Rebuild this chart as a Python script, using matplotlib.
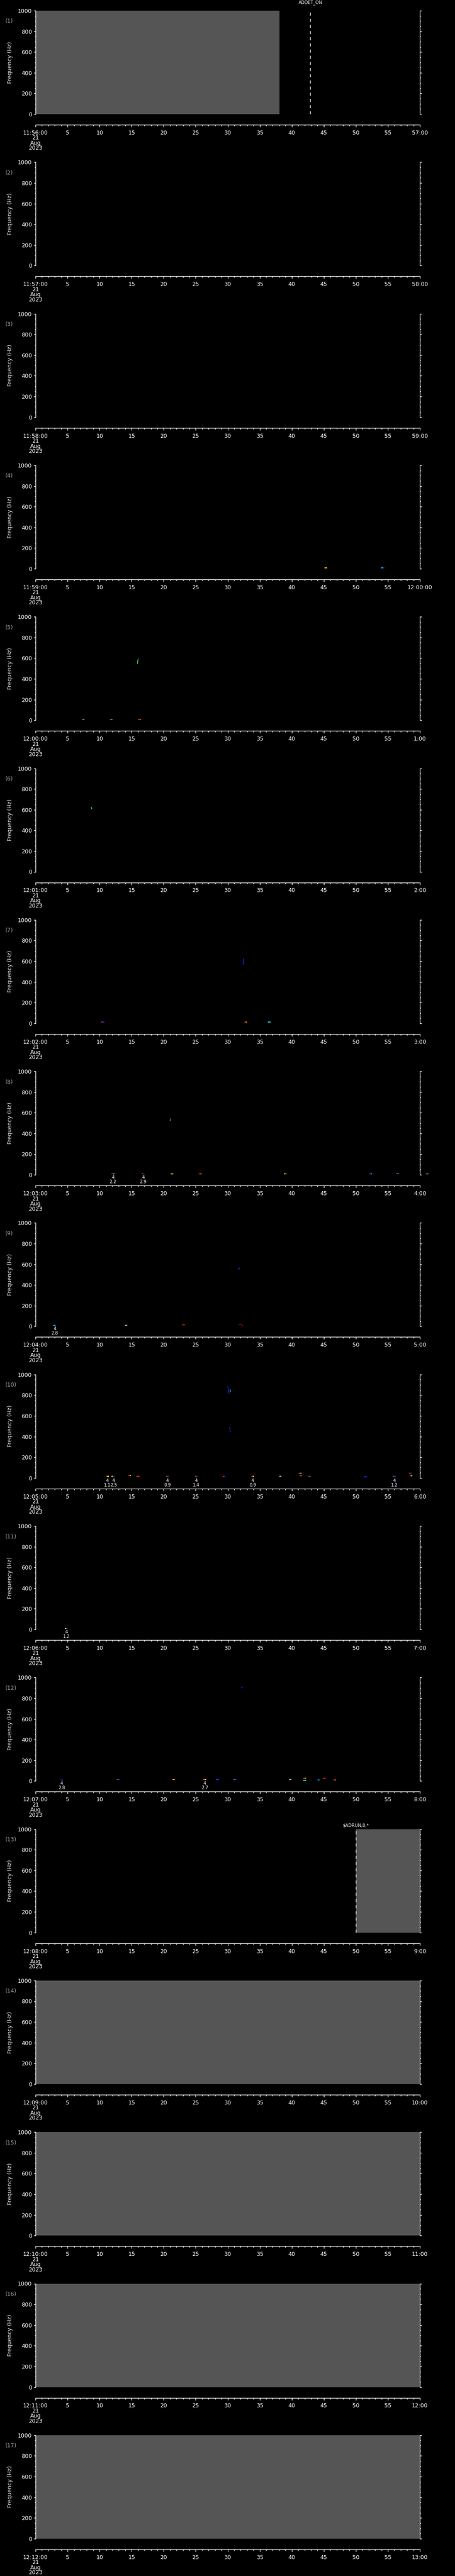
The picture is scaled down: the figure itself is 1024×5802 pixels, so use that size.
import matplotlib
matplotlib.use("Agg")
import matplotlib.pyplot as plt
from matplotlib.ticker import MultipleLocator

# =============================================================================
# DATA
# =============================================================================

start_labels = ["11:56:00", "11:57:00", "11:58:00", "11:59:00", "12:00:00",
                "12:01:00", "12:02:00", "12:03:00", "12:04:00", "12:05:00",
                "12:06:00", "12:07:00", "12:08:00", "12:09:00", "12:10:00",
                "12:11:00", "12:12:00"]
end_labels = ["57:00", "58:00", "59:00", "12:00:00", "1:00", "2:00", "3:00",
              "4:00", "5:00", "6:00", "7:00", "8:00", "9:00", "10:00",
              "11:00", "12:00", "13:00"]
mid_labels = ["5", "10", "15", "20", "25", "30", "35", "40", "45", "50", "55"]
date_lines = ["21", "Aug", "2023"]

# grey (no data) spans, seconds inside the minute
gray_panel = [0, 12, 13, 14, 15, 16]
gray_t0 = [0.0, 50.0, 0.0, 0.0, 0.0, 0.0]
gray_t1 = [38.1, 60.0, 60.0, 60.0, 60.0, 60.0]

# event markers
evt_panel = [0, 12]
evt_time = [42.9, 50.0]
evt_label = ["ADDET_ON", "$ADRUN,0,*"]

# small spectral blobs: panel, time (s), freq (Hz), left colour, right colour
dot_panel = [3, 3,
             4, 4, 4,
             6, 6, 6,
             7, 7, 7, 7, 7, 7, 7, 7,
             8, 8, 8,
             9, 9, 9, 9, 9, 9, 9, 9, 9, 9, 9, 9, 9, 9, 9, 9,
             10,
             11, 11, 11, 11, 11, 11, 11, 11, 11, 11, 11, 11]
dot_t = [45.3, 54.2,
         7.4, 11.8, 16.2,
         10.5, 32.8, 36.5,
         12.1, 16.8, 21.3, 25.7, 39.0, 52.3, 56.5, 61.1,
         3.0, 14.2, 23.1,
         11.2, 12.1, 14.7, 16.0, 20.6, 25.1, 29.4, 33.9, 38.3, 41.3, 41.4,
         42.8, 51.5, 56.0, 58.5, 58.6,
         4.8,
         4.1, 12.9, 21.5, 26.4, 28.4, 31.1, 39.8, 42.0, 42.0, 44.1, 45.1, 46.7]
dot_f = [10, 10,
         10, 10, 10,
         10, 10, 10,
         10, 10, 10, 10, 10, 10, 15, 10,
         10, 12, 15,
         15, 15, 24, 15, 15, 15, 15, 15, 15, 48, 20,
         15, 10, 15, 48, 20,
         10,
         10, 15, 15, 15, 15, 15, 15, 25, 5, 10, 25, 10]
dot_c1 = ["o", "c",
          "r", "r", "r",
          "r", "r", "c",
          "r", "r", "y", "r", "y", "b", "b", "r",
          "c", "y", "r",
          "r", "y", "r", "r", "r", "r", "r", "r", "y", "r", "r",
          "r", "b", "r", "r", "r",
          "y",
          "b", "r", "r", "r", "b", "r", "y", "r", "c", "b", "r", "r"]
dot_c2 = ["y", "b",
          "c", "c", "o",
          "b", "o", "c",
          "c", "b", "y", "o", "o", "c", "r", "c",
          "b", "b", "r",
          "y", "b", "y", "r", "b", "b", "b", "y", "b", "c", "r",
          "b", "b", "b", "b", "y",
          "b",
          "b", "b", "y", "y", "b", "b", "b", "y", "c", "c", "r", "o"]

# short tracks: panel, t0, f0, t1, f1, colour
trk_panel = [4, 4, 5, 6, 7, 7, 8, 8, 8, 9, 9, 9, 11]
trk_t0 = [15.9, 16.0, 8.7, 32.4, 21.0, 21.05, 31.7, 31.7, 32.1, 30.0, 30.35, 30.3, 32.1]
trk_f0 = [545, 590, 625, 568, 523, 535, 546, 20, 20, 886, 857, 490, 897]
trk_t1 = [16.0, 16.1, 8.8, 32.5, 21.05, 21.1, 31.85, 32.1, 32.4, 30.2, 30.4, 30.4, 32.3]
trk_f1 = [590, 604, 604, 627, 535, 546, 568, 20, 0, 814, 830, 443, 913]
trk_c = ["g", "b", "c", "b", "g", "r", "b", "dr", "dr", "b", "c", "b", "b"]

# detection annotations under the blobs
det_panel = [7, 7, 8, 9, 9, 9, 9, 9, 9, 10, 11, 11]
det_t = [12.1, 16.8, 3.0, 11.2, 12.2, 20.6, 25.1, 33.9, 56.0, 4.8, 4.1, 26.4]
det_top = ["4"] * 12
det_bot = ["2.2", "2.9", "2.8", "1.1", "2.5", "0.9", "1.4", "0.9", "1.2",
           "1.2", "2.8", "2.7"]

# =============================================================================
# STYLE / LAYOUT
# =============================================================================

W, H, DPI = 1024, 5802, 100
PX = 72.0 / DPI                 # points per pixel
X0, X1 = 80, 945                # plot area, pixels
TOP0, PITCH, AX_H = 24, 341.3, 233
GRAY = "#555555"
COLORS = {"r": "#ff2a00", "y": "#ffff00", "c": "#00ffff", "b": "#1030ff",
          "o": "#ff9000", "g": "#40ff40", "dr": "#b00000"}
evt_pad_px = [18, 8]
BLOB_HALF = 0.22                # s

fig = plt.figure(figsize=(W / DPI, H / DPI), dpi=DPI, facecolor="black")

axes = []
for i in range(len(start_labels)):
    top = TOP0 + i * PITCH
    ax = fig.add_axes([X0 / W, 1 - (top + AX_H) / H, (X1 - X0) / W, AX_H / H])
    ax.set_facecolor("black")
    ax.set_xlim(0, 60)
    ax.set_ylim(0, 1000)
    ax.spines["top"].set_visible(False)
    for s in ["left", "right", "bottom"]:
        ax.spines[s].set_color("white")
        ax.spines[s].set_linewidth(1.0)
    ax.spines["bottom"].set_position(("outward", 24 * PX))

    ax.xaxis.set_major_locator(MultipleLocator(5))
    ax.xaxis.set_minor_locator(MultipleLocator(1))
    ax.yaxis.set_major_locator(MultipleLocator(200))
    ax.yaxis.set_minor_locator(MultipleLocator(50))
    ax.tick_params(which="both", direction="out", colors="white",
                   right=True, labelright=False, width=1.0)
    ax.tick_params(which="major", length=4 * PX * 1.0, labelsize=9)
    ax.tick_params(which="minor", length=2.2 * PX)
    ax.tick_params(axis="x", which="major", length=5 * PX, pad=5)
    ax.tick_params(axis="x", which="minor", length=3 * PX)
    ax.tick_params(axis="y", pad=3)

    ax.set_yticks([0, 200, 400, 600, 800, 1000])
    ax.set_yticklabels(["0", "200", "400", "600", "800", "1000"])
    ax.set_xticks(range(0, 61, 5))
    ax.set_xticklabels(["\n".join([start_labels[i]] + date_lines)]
                       + mid_labels + [end_labels[i]])
    for lab in ax.get_xticklabels():
        lab.set_linespacing(0.85)

    fig.text(11.5 / W, 1 - (top + 24) / H, f"({i + 1})", color="#a0a0a0",
             fontsize=9, ha="left", va="center")
    fig.text(23 / W, 1 - (top + AX_H / 2) / H, "Frequency (Hz)",
             color="#e6e6e6", fontsize=9, rotation=90, ha="center",
             va="center")
    axes.append(ax)

# grey no-data blocks
for p, a, b in zip(gray_panel, gray_t0, gray_t1):
    axes[p].axvspan(a, b, color=GRAY, zorder=0, lw=0)

# event lines
for k, (p, t, lab) in enumerate(zip(evt_panel, evt_time, evt_label)):
    ax = axes[p]
    ax.axvline(t, color="white", lw=1.0, ls=(0, (5, 5)), zorder=3)
    ax.annotate(lab, xy=(t, 1000), xytext=(0, evt_pad_px[k] * PX),
                textcoords="offset points", ha="center", va="center",
                color="white", fontsize=7)

# blobs
for p, t, f, c1, c2 in zip(dot_panel, dot_t, dot_f, dot_c1, dot_c2):
    ax = axes[p]
    ax.hlines(f, t - BLOB_HALF, t, colors=COLORS[c1], lw=2 * PX, clip_on=False)
    ax.hlines(f, t, t + BLOB_HALF, colors=COLORS[c2], lw=2 * PX, clip_on=False)

# tracks
for p, a, fa, b, fb, c in zip(trk_panel, trk_t0, trk_f0, trk_t1, trk_f1, trk_c):
    axes[p].plot([a, b], [fa, fb], color=COLORS[c], lw=1.5 * PX,
                 solid_capstyle="butt", clip_on=False)

# detection annotations
for p, t, a, b in zip(det_panel, det_t, det_top, det_bot):
    ax = axes[p]
    ax.annotate(a, xy=(t, 0), xytext=(0, -6 * PX), textcoords="offset points",
                ha="center", va="center", color="white", fontsize=7)
    ax.annotate(b, xy=(t, 0), xytext=(0, -16 * PX), textcoords="offset points",
                ha="center", va="center", color="white", fontsize=7)

fig.savefig("out.png", dpi=DPI, facecolor="black")
